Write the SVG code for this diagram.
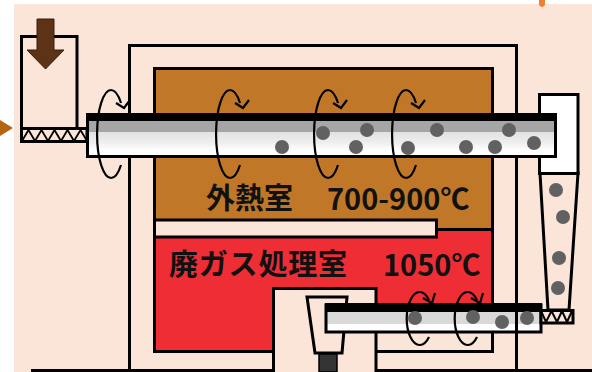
<svg xmlns="http://www.w3.org/2000/svg" width="592" height="372" viewBox="0 0 592 372">
  <defs>
    <linearGradient id="kilnGrad" x1="0" y1="0" x2="0" y2="1">
      <stop offset="0" stop-color="#a6a6a6"/>
      <stop offset="0.4" stop-color="#a6a6a6"/>
      <stop offset="0.41" stop-color="#e2e2e2"/>
      <stop offset="0.65" stop-color="#ededed"/>
      <stop offset="0.85" stop-color="#ffffff"/>
      <stop offset="1" stop-color="#ffffff"/>
    </linearGradient>
    <linearGradient id="lowerGrad" x1="0" y1="0" x2="0" y2="1">
      <stop offset="0" stop-color="#d9d9d9"/>
      <stop offset="0.7" stop-color="#d9d9d9"/>
      <stop offset="0.71" stop-color="#ffffff"/>
      <stop offset="1" stop-color="#ffffff"/>
    </linearGradient>
  </defs>
  <style>
    .ln { fill: none; stroke: #000; stroke-width: 3; }
    .box { stroke: #000; stroke-width: 3; }
    .peach { fill: #fae5d8; }
    .dot { fill: #616161; }
    .rot { fill: none; stroke: #000; stroke-width: 2.2; stroke-linejoin: miter; }
    .lbl { font-family: "Noto Sans CJK JP", "Noto Sans", sans-serif; font-weight: bold; font-size: 29px; fill: #111; }
  </style>

  <!-- page -->
  <rect x="0" y="0" width="592" height="372" fill="#ffffff"/>
  <rect x="14" y="4" width="578" height="368" class="peach"/>

  <!-- feed arrow on the left edge and spout at top right -->
  <polygon points="0,120 13,128 0,136" fill="#b5650f"/>
  <path d="M539,0 H545 V5 Q542,9 539,5 Z" fill="#f08030"/>

  <!-- furnace shell -->
  <g id="shell">
    <path class="ln" d="M129.5,372 V45.5 H516.5 V372"/>
    <line class="ln" x1="31" y1="370.5" x2="592" y2="370.5"/>
  </g>

  <!-- external heating chamber -->
  <g id="heating-chamber">
    <rect class="box" x="154.5" y="68.5" width="338" height="162" fill="#c07828"/>
  </g>

  <!-- exhaust gas treatment chamber -->
  <g id="gas-chamber">
    <rect class="box" x="154.5" y="229.5" width="338" height="122" fill="#ee2d35"/>
    <rect x="377" y="331" width="114" height="19" class="peach"/>
    <rect class="box peach" x="154.5" y="220" width="282" height="17"/>
  </g>

  <!-- discharge well and chute -->
  <g id="discharge">
    <path class="box peach" d="M273.5,372 V288.5 H376 V372"/>
    <polygon class="box peach" points="307,297 347,297 342,353 315,353"/>
    <rect x="319" y="354" width="18" height="18" fill="#333333" stroke="#000" stroke-width="1.5"/>
  </g>

  <!-- lower cooling screw -->
  <g id="lower-screw">
    <rect class="box" x="326" y="305" width="215" height="27" fill="url(#lowerGrad)"/>
    <rect x="325" y="303" width="217" height="9" fill="#000"/>
    <circle class="dot" cx="415" cy="318" r="7"/>
    <circle class="dot" cx="473" cy="317" r="7"/>
    <circle class="dot" cx="502" cy="322" r="7"/>
    <circle class="dot" cx="527" cy="318" r="7"/>
  </g>
  <line class="ln" x1="516.5" y1="300" x2="516.5" y2="340"/>

  <!-- cyclone -->
  <g id="cyclone">
    <polygon class="box peach" points="540,173 578,173 569,310 548,310"/>
    <rect class="box" x="539.5" y="94.5" width="38.5" height="79" fill="#ffffff"/>
    <circle class="dot" cx="556" cy="190" r="7"/>
    <circle class="dot" cx="563" cy="217" r="7"/>
    <circle class="dot" cx="559" cy="258" r="7"/>
    <circle class="dot" cx="558" cy="288" r="7"/>
    <rect class="box peach" x="541" y="310.5" width="32" height="12.5"/>
    <polyline fill="none" stroke="#000" stroke-width="2" points="541,311 546,322 551.5,311 557,322 562,311 567,322 572,311"/>
  </g>

  <!-- rotary kiln -->
  <g id="kiln">
    <rect class="box" x="87.5" y="115" width="468" height="41.5" fill="url(#kilnGrad)"/>
    <rect x="86" y="113" width="471" height="8" fill="#000"/>
    <circle class="dot" cx="282" cy="147" r="7"/>
    <circle class="dot" cx="323" cy="133" r="7"/>
    <circle class="dot" cx="356" cy="147" r="7"/>
    <circle class="dot" cx="367" cy="130" r="7"/>
    <circle class="dot" cx="408" cy="148" r="7"/>
    <circle class="dot" cx="437" cy="130" r="7"/>
    <circle class="dot" cx="466" cy="147" r="7"/>
    <circle class="dot" cx="495" cy="147" r="7"/>
    <circle class="dot" cx="509" cy="130" r="7"/>
    <circle class="dot" cx="534" cy="143" r="7"/>
  </g>

  <!-- feed hopper with screw feeder -->
  <g id="hopper">
    <rect class="box peach" x="21.5" y="36.5" width="55.5" height="92" stroke-width="2.5"/>
    <rect class="box peach" x="21.5" y="128.5" width="65.5" height="13" stroke-width="2.5"/>
    <polyline fill="none" stroke="#000" stroke-width="1.8" points="22,141 28.5,130 35,141 41.5,130 48,141 54.5,130 61,141 67.5,130 74,141 80.5,130 87,141"/>
    <polygon points="37,19 54,19 54,50 64,50 45.5,69 27,50 37,50" fill="#5c3317" stroke="#3a1d08" stroke-width="1"/>
  </g>

  <!-- rotation marks -->
  <g id="rotation-marks">
    <path class="rot" d="M121,165 A14 44 0 1 1 121,103"/>
    <polyline class="rot" points="116,103 124,108 130,100"/>
    <path class="rot" d="M240,165 A14 44 0 1 1 240,103"/>
    <polyline class="rot" points="235,103 243,108 249,100"/>
    <path class="rot" d="M338,165 A14 44 0 1 1 338,103"/>
    <polyline class="rot" points="333,103 341,108 347,100"/>
    <path class="rot" d="M416,165 A14 44 0 1 1 416,103"/>
    <polyline class="rot" points="411,103 419,108 425,100"/>
    <path class="rot" d="M429,337 A13 26.5 0 1 1 429,300"/>
    <polyline class="rot" points="423,298 432,303 435,293"/>
    <path class="rot" d="M477,337 A13 26.5 0 1 1 477,300"/>
    <polyline class="rot" points="471,298 480,303 483,293"/>
  </g>

  <!-- labels -->
  <g id="labels">
    <text class="lbl" x="206" y="209">外熱室</text>
    <text class="lbl" x="327" y="210">700-900℃</text>
    <text class="lbl" x="169" y="275" textLength="178">廃ガス処理室</text>
    <text class="lbl" x="383" y="276">1050℃</text>
  </g>
</svg>
